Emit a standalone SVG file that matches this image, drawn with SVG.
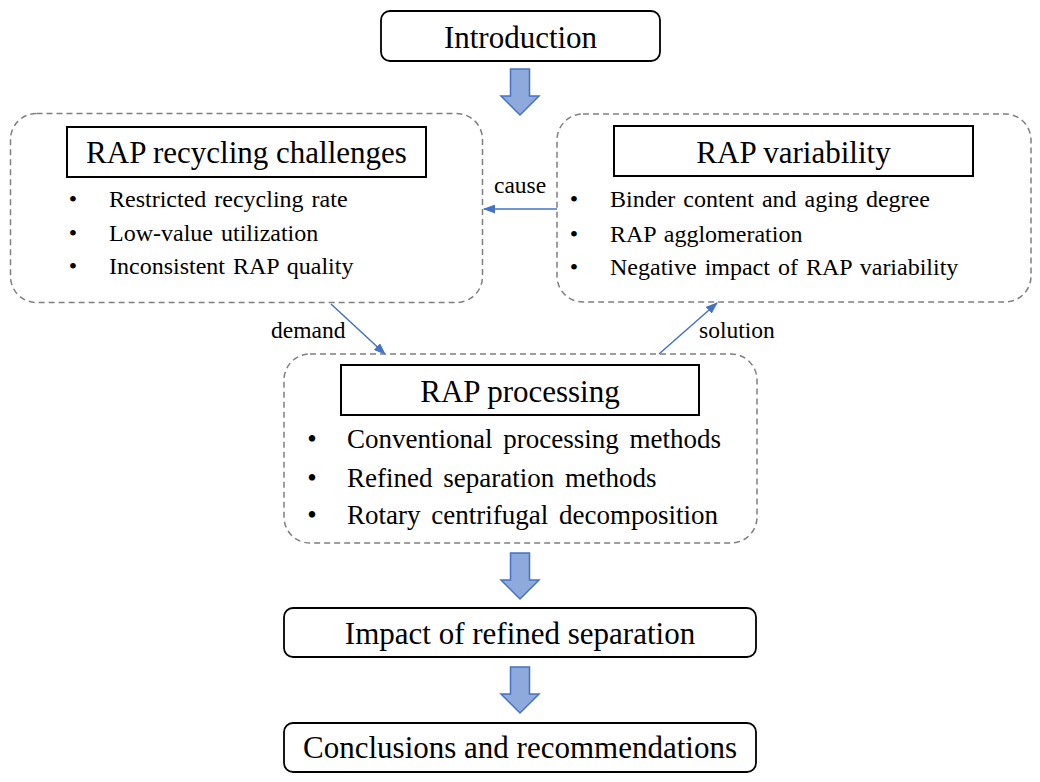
<svg xmlns="http://www.w3.org/2000/svg" width="1040" height="782" viewBox="0 0 1040 782">
<style>
  .bg{fill:#ffffff}
  .dash{fill:none;stroke:#7f7f7f;stroke-width:1.5;stroke-dasharray:6 4}
  .title{fill:#ffffff;stroke:#000000;stroke-width:2}
  .round{fill:#ffffff;stroke:#000000;stroke-width:1.8}
  .t{font-family:"Liberation Serif","Times New Roman",serif;fill:#000000}
  .big{font-size:31px;text-anchor:middle}
  .b24{font-size:24px;word-spacing:2px}
  .b27{font-size:27px;word-spacing:4px}
  .dot{text-anchor:middle}
  .lbl{font-size:23.5px}
  .conn{stroke:#4472C4;stroke-width:1.5;fill:none;marker-end:url(#ah)}
  .block{fill:#8EA9DB;stroke:#4472C4;stroke-width:1.5;stroke-linejoin:miter}
</style>
<defs>
  <marker id="ah" markerUnits="userSpaceOnUse" markerWidth="12" markerHeight="9" refX="11" refY="4.5" orient="auto">
    <path d="M0,0 L12,4.5 L0,9 Z" fill="#4472C4"/>
  </marker>
  <path id="barrow" d="M-9.5,0 L9.5,0 L9.5,27 L19,27 L0,46 L-19,27 L-9.5,27 Z"/>
</defs>
<rect class="bg" x="0" y="0" width="1040" height="782"/>

<g id="connectors">
  <line class="conn" x1="557" y1="209" x2="484" y2="209"/>
  <line class="conn" x1="331" y1="304" x2="385" y2="354"/>
  <line class="conn" x1="659" y1="354" x2="717" y2="303"/>
  <text class="t lbl" x="494" y="193">cause</text>
  <text class="t lbl" x="271" y="338">demand</text>
  <text class="t lbl" x="699" y="338">solution</text>
  <use href="#barrow" class="block" transform="translate(520,69)"/>
  <use href="#barrow" class="block" transform="translate(520,553)"/>
  <use href="#barrow" class="block" transform="translate(520,667)"/>
</g>

<g id="introduction">
  <rect class="round" x="381" y="11" width="279" height="50" rx="9"/>
  <text class="t big" x="520.5" y="48">Introduction</text>
</g>

<g id="rap-recycling-challenges">
  <rect class="dash" x="10.5" y="113.5" width="472" height="189" rx="26"/>
  <rect class="title" x="67" y="127" width="359" height="50"/>
  <text class="t big" x="246.5" y="163">RAP recycling challenges</text>
  <text class="t b24 dot" x="73" y="207">•</text>
  <text class="t b24 dot" x="73" y="241">•</text>
  <text class="t b24 dot" x="73" y="274">•</text>
  <text class="t b24" x="109" y="207">Restricted recycling rate</text>
  <text class="t b24" x="109" y="241">Low-value utilization</text>
  <text class="t b24" x="109" y="274">Inconsistent RAP quality</text>
</g>

<g id="rap-variability">
  <rect class="dash" x="557" y="114" width="474" height="188" rx="26"/>
  <rect class="title" x="614" y="126" width="359" height="50"/>
  <text class="t big" x="793.5" y="163">RAP variability</text>
  <text class="t b24 dot" x="574" y="207">•</text>
  <text class="t b24 dot" x="574" y="242">•</text>
  <text class="t b24 dot" x="574" y="275">•</text>
  <text class="t b24" x="610" y="207">Binder content and aging degree</text>
  <text class="t b24" x="610" y="242">RAP agglomeration</text>
  <text class="t b24" x="610" y="275">Negative impact of RAP variability</text>
</g>

<g id="rap-processing">
  <rect class="dash" x="284" y="354" width="473" height="189" rx="26"/>
  <rect class="title" x="341" y="365" width="358" height="50"/>
  <text class="t big" x="520" y="402">RAP processing</text>
  <text class="t b27 dot" x="312" y="448">•</text>
  <text class="t b27 dot" x="312" y="487">•</text>
  <text class="t b27 dot" x="312" y="524">•</text>
  <text class="t b27" x="347" y="448">Conventional processing methods</text>
  <text class="t b27" x="347" y="487">Refined separation methods</text>
  <text class="t b27" x="347" y="524">Rotary centrifugal decomposition</text>
</g>

<g id="impact">
  <rect class="round" x="284" y="608" width="472" height="49" rx="9"/>
  <text class="t big" x="520" y="644">Impact of refined separation</text>
</g>

<g id="conclusions">
  <rect class="round" x="284" y="723" width="472" height="49" rx="9"/>
  <text class="t big" x="520" y="758">Conclusions and recommendations</text>
</g>
</svg>
